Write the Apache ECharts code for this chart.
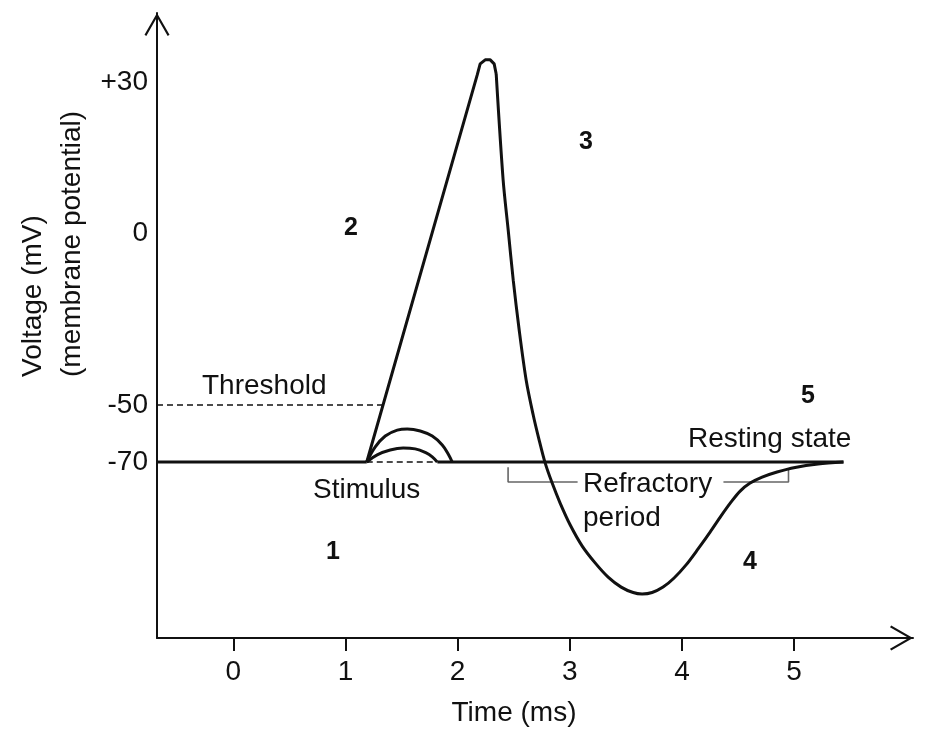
<!DOCTYPE html>
<html>
<head>
<meta charset="utf-8">
<script src="https://cdn.jsdelivr.net/npm/echarts@6/dist/echarts.min.js"></script>
<style>
html,body{margin:0;padding:0;background:#fff;}
#chart{width:939px;height:747px;}
</style>
</head>
<body>
<div id="chart"></div>
<script>
// ---------------- data (time in ms, voltage in mV) ----------------
const timeTicks = [0, 1, 2, 3, 4, 5];
const voltTicks = [-70, -50, 0, 30];
const voltTickLabels = ['-70', '-50', '0', '+30'];

const restingPotential = -70;
const thresholdPotential = -50;
const traceStart = -0.68;
const stimulusOnset = 1.19;
const subthresholdEnd = 1.82;
const restingEnd = 5.44;

// depolarisation (rise) and rounded peak
const spikeTime = [1.19, 2.175, 2.201, 2.246, 2.291, 2.326, 2.344];
const spikeVolt = [-70, 31.4, 33.6, 34.4, 34.4, 33.6, 31.6];

// repolarisation, hyperpolarisation and return to rest
const repolTime = [2.344, 2.406, 2.451, 2.496, 2.549, 2.611, 2.674, 2.727, 2.781, 2.843, 2.914, 3.004, 3.111, 3.226, 3.342, 3.458, 3.565, 3.645, 3.734, 3.832, 3.930, 4.037, 4.144, 4.251, 4.349, 4.439, 4.519, 4.608, 4.715, 4.848, 5.009, 5.214, 5.44];
const repolVolt = [31.6, 10.5, 0.6, -13.7, -28.2, -42.7, -53.5, -62.3, -70.4, -77.4, -84.4, -92.1, -99.5, -105.4, -110.4, -113.9, -115.8, -116.3, -115.8, -113.9, -110.7, -106.1, -100.5, -94.6, -88.9, -84.0, -80.2, -77.4, -75.3, -73.5, -71.9, -70.7, -70];

// failed (sub-threshold) stimuli
const stimBigTime = [1.19, 1.266, 1.355, 1.462, 1.551, 1.667, 1.774, 1.863, 1.916, 1.952];
const stimBigVolt = [-70, -64.7, -60.9, -58.8, -58.4, -59.1, -60.9, -64.0, -67.2, -70];
const stimSmallTime = [1.19, 1.283, 1.399, 1.515, 1.622, 1.720, 1.774, 1.818];
const stimSmallVolt = [-70, -67.5, -65.8, -65.1, -65.4, -66.8, -68.2, -70];

// refractory period bracket (ms) and the level it is drawn at (mV)
const refractoryStart = 2.45;
const refractoryEnd = 4.95;
const bracketLevel = -77;
const bracketTopLeft = -71.8;
const bracketTopRight = -72.8;
const bracketGap = [3.07, 4.37];

// ---------------- schematic (non-uniform) voltage scale ----------------
const warpMv = [-70, -50, 0, 30];
const warpU = [0, 57, 229, 380];
function warp(v) {
  let i;
  if (v <= warpMv[0]) i = 0;
  else if (v >= warpMv[warpMv.length - 1]) i = warpMv.length - 2;
  else { i = 0; while (!(v >= warpMv[i] && v <= warpMv[i + 1])) i++; }
  return warpU[i] + (v - warpMv[i]) * (warpU[i + 1] - warpU[i]) / (warpMv[i + 1] - warpMv[i]);
}
const pts = (ts, vs) => ts.map((t, i) => [t, warp(vs[i])]);

const FONT = 'Liberation Sans, Arial, Helvetica, sans-serif';
const INK = '#111';
const chevron = 'path://M12.5,0 L25,21.8 L23.2,23 L12.5,4.3 L1.8,23 L0,21.8 Z';

function lineSeries(data, opts) {
  return Object.assign({
    type: 'line', data: data, symbol: 'none', silent: true,
    lineStyle: { color: INK, width: 3 }, z: 3
  }, opts || {});
}

const chart = echarts.init(document.getElementById('chart'), null, { renderer: 'canvas' });
const option = {
  animation: false,
  backgroundColor: '#fff',
  grid: { left: 157, right: 26, top: 13, bottom: 109, containLabel: false, outerBoundsMode: 'none' },
  xAxis: {
    type: 'value', min: traceStart, max: 6.06,
    axisLine: { onZero: false, lineStyle: { color: INK, width: 2 }, symbol: ['none', chevron], symbolSize: [25, 23], symbolOffset: [0, -11.5] },
    axisTick: { show: true, customValues: timeTicks, length: 13, lineStyle: { color: INK, width: 2 } },
    axisLabel: { customValues: timeTicks, margin: 20, fontSize: 28, color: INK, fontFamily: FONT },
    splitLine: { show: false }
  },
  yAxis: {
    type: 'value', min: -176, max: 449,
    axisLine: { onZero: false, lineStyle: { color: INK, width: 2 }, symbol: ['none', chevron], symbolSize: [25, 23], symbolOffset: [0, -11.5] },
    axisTick: { show: false },
    axisLabel: {
      customValues: voltTicks.map(warp), margin: 9, fontSize: 28, color: INK, fontFamily: FONT,
      formatter: function (val) {
        let best = 0;
        voltTicks.forEach((v, i) => { if (Math.abs(warp(v) - val) < Math.abs(warp(voltTicks[best]) - val)) best = i; });
        return voltTickLabels[best];
      }
    },
    splitLine: { show: false }
  },
  series: [
    lineSeries(pts([traceStart, stimulusOnset], [restingPotential, restingPotential])),
    lineSeries(pts([stimulusOnset, subthresholdEnd], [restingPotential, restingPotential]), { lineStyle: { color: INK, width: 1.6, type: [6, 4] } }),
    lineSeries(pts([subthresholdEnd, restingEnd], [restingPotential, restingPotential])),
    lineSeries(pts([traceStart, 1.33], [thresholdPotential, thresholdPotential]), { lineStyle: { color: INK, width: 1.5, type: [6, 4] } }),
    lineSeries(pts(stimBigTime, stimBigVolt), { smooth: 0.4 }),
    lineSeries(pts(stimSmallTime, stimSmallVolt), { smooth: 0.4 }),
    lineSeries(pts(spikeTime, spikeVolt)),
    lineSeries(pts(repolTime, repolVolt), { smooth: 0.3 }),
    lineSeries(pts([refractoryStart, refractoryStart, bracketGap[0]], [bracketTopLeft, bracketLevel, bracketLevel]), { lineStyle: { color: '#666', width: 1.6 }, z: 2 }),
    lineSeries(pts([bracketGap[1], refractoryEnd, refractoryEnd], [bracketLevel, bracketLevel, bracketTopRight]), { lineStyle: { color: '#666', width: 1.6 }, z: 2 })
  ],
  graphic: [
    { type: 'text', x: 33, y: 377, rotation: Math.PI / 2, style: { text: 'Voltage (mV)', fontSize: 28, fontFamily: FONT, fill: INK, align: 'left', verticalAlign: 'middle' } },
    { type: 'text', x: 72, y: 377, rotation: Math.PI / 2, style: { text: '(membrane potential)', fontSize: 28, fontFamily: FONT, fill: INK, align: 'left', verticalAlign: 'middle' } },
    { type: 'text', x: 514, y: 713, style: { text: 'Time (ms)', fontSize: 28, fontFamily: FONT, fill: INK, align: 'center', verticalAlign: 'middle' } },
    { type: 'text', x: 202, y: 386, style: { text: 'Threshold', fontSize: 28, fontFamily: FONT, fill: INK, align: 'left', verticalAlign: 'middle' } },
    { type: 'text', x: 313, y: 490, style: { text: 'Stimulus', fontSize: 28, fontFamily: FONT, fill: INK, align: 'left', verticalAlign: 'middle' } },
    { type: 'text', x: 688, y: 439, style: { text: 'Resting state', fontSize: 28, fontFamily: FONT, fill: INK, align: 'left', verticalAlign: 'middle' } },
    { type: 'text', x: 583, y: 484, style: { text: 'Refractory', fontSize: 28, fontFamily: FONT, fill: INK, align: 'left', verticalAlign: 'middle' } },
    { type: 'text', x: 583, y: 518, style: { text: 'period', fontSize: 28, fontFamily: FONT, fill: INK, align: 'left', verticalAlign: 'middle' } },
    { type: 'text', x: 333, y: 552, style: { text: '1', fontSize: 25, fontWeight: 'bold', fontFamily: FONT, fill: INK, align: 'center', verticalAlign: 'middle' } },
    { type: 'text', x: 351, y: 228, style: { text: '2', fontSize: 25, fontWeight: 'bold', fontFamily: FONT, fill: INK, align: 'center', verticalAlign: 'middle' } },
    { type: 'text', x: 586, y: 142, style: { text: '3', fontSize: 25, fontWeight: 'bold', fontFamily: FONT, fill: INK, align: 'center', verticalAlign: 'middle' } },
    { type: 'text', x: 750, y: 562, style: { text: '4', fontSize: 25, fontWeight: 'bold', fontFamily: FONT, fill: INK, align: 'center', verticalAlign: 'middle' } },
    { type: 'text', x: 808, y: 396, style: { text: '5', fontSize: 25, fontWeight: 'bold', fontFamily: FONT, fill: INK, align: 'center', verticalAlign: 'middle' } }
  ]
};
chart.setOption(option);
</script>
</body>
</html>
